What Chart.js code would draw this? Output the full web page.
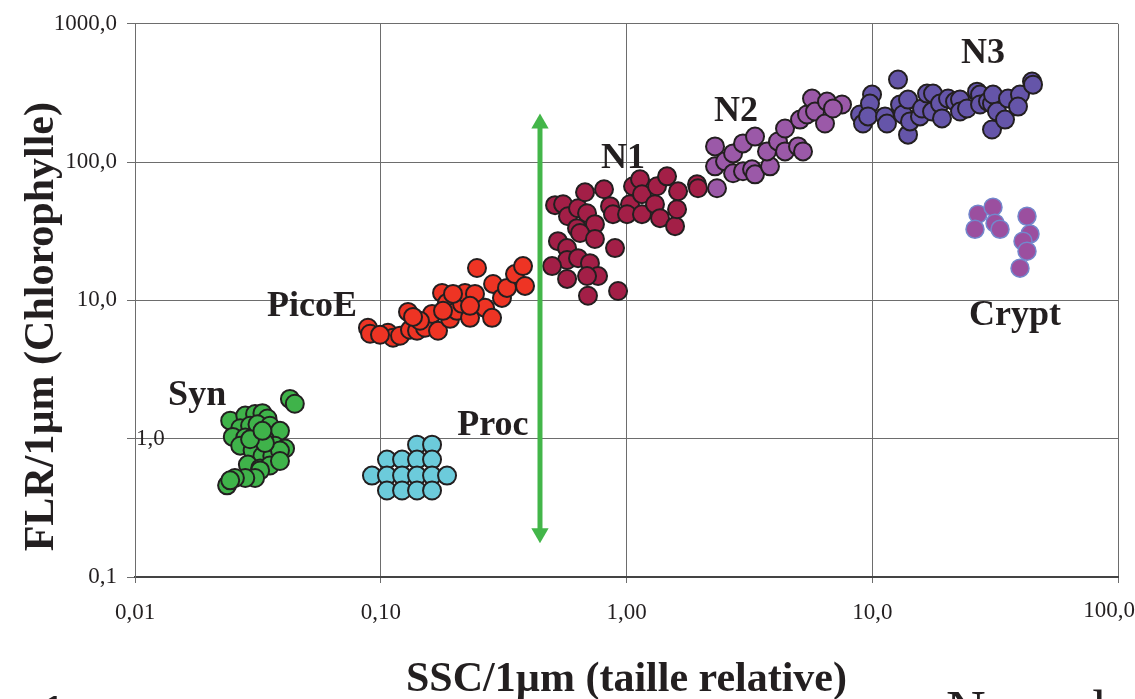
<!DOCTYPE html>
<html>
<head>
<meta charset="utf-8">
<script src="https://cdn.jsdelivr.net/npm/chart.js@4.4.1/dist/chart.umd.min.js"></script>
<style>
  html, body { margin: 0; padding: 0; background: #fff; overflow: hidden; }
  #wrap { position: relative; width: 1135px; height: 699px; overflow: hidden; }
  .frag { position: absolute; font-family: "Liberation Serif", serif; color: #231f20; line-height: 1; }
</style>
</head>
<body>
<div id="wrap">
  <canvas id="cytoChart" width="1135" height="699"></canvas>
  <div class="frag" style="left:42px; top:689px; font-size:44px; font-weight:bold;">1</div>
  <div class="frag" style="left:946px; top:682px; font-size:55px;">Nanoph</div>
</div>
<script>
// tick labels (French decimal comma)
const xTickValues = [0.01, 0.1, 1, 10, 100];
const xTickLabels = ["0,01", "0,10", "1,00", "10,0", "100,0"];
const yTickValues = [0.1, 1, 10, 100, 1000];
const yTickLabels = ["0,1", "1,0", "10,0", "100,0", "1000,0"];

// Synechococcus
const synX = [0.0427, 0.0447, 0.0244, 0.0281, 0.0308, 0.0330, 0.0346, 0.0268, 0.0294, 0.0315, 0.0354, 0.0389,
  0.0250, 0.0281, 0.0308, 0.0338, 0.0371, 0.0408, 0.0268, 0.0301, 0.0330, 0.0362, 0.0389, 0.0288, 0.0323,
  0.0354, 0.0389, 0.0323, 0.0308, 0.0281, 0.0255, 0.0237, 0.0244, 0.0338, 0.0294, 0.0330];
const synY = [1.94, 1.79, 1.35, 1.47, 1.51, 1.53, 1.40, 1.19, 1.24, 1.27, 1.24, 1.14,
  1.03, 1.02, 0.97, 0.99, 0.89, 0.85, 0.89, 0.82, 0.75, 0.75, 0.82, 0.65, 0.61,
  0.64, 0.69, 0.59, 0.52, 0.52, 0.52, 0.46, 0.50, 0.93, 0.99, 1.14];

// Prochlorococcus
const procX = [0.1405, 0.1617, 0.106, 0.1221, 0.1405, 0.1617, 0.0921, 0.106, 0.1221, 0.1405, 0.1617, 0.1861,
  0.106, 0.1221, 0.1405, 0.1617];
const procY = [0.905, 0.905, 0.706, 0.706, 0.706, 0.706, 0.541, 0.541, 0.541, 0.541, 0.541, 0.541,
  0.422, 0.422, 0.422, 0.422];

// Pico-eukaryotes
const picoX = [0.0887, 0.0905, 0.1070, 0.1122, 0.1198, 0.1291, 0.1315, 0.1405, 0.1514, 0.1617, 0.1710, 0.1776,
  0.1861, 0.1914, 0.2043, 0.2141, 0.2202, 0.2308, 0.2418, 0.2464, 0.2657, 0.2837, 0.2864, 0.3114, 0.3264,
  0.3518, 0.3793, 0.3864, 0.2308, 0.1968, 0.1792, 0.1444, 0.1353, 0.0993];
const picoY = [6.34, 5.74, 5.83, 5.37, 5.55, 8.26, 6.13, 6.03, 6.34, 7.99, 6.03, 11.33,
  9.59, 7.36, 8.40, 9.44, 11.33, 7.48, 11.14, 17.15, 8.83, 7.48, 13.15, 10.42, 12.31,
  15.5, 17.7, 12.72, 9.13, 11.14, 8.40, 7.12, 7.60, 5.64];

// Nano-eukaryotes 1
const n1X = [0.512, 0.552, 0.578, 0.635, 0.678, 0.691, 0.744, 0.629, 0.647, 0.744, 0.526, 0.573, 0.573, 0.498,
  0.635, 0.710, 0.766, 0.691, 0.573, 0.697, 0.898, 0.924, 0.810, 0.857, 0.881, 1.033, 1.005, 1.063,
  1.135, 1.156, 1.156, 1.306, 1.331, 1.369, 1.462, 1.576, 1.606, 1.621, 1.936, 1.954];
const n1Y = [48.8, 49.6, 40.6, 46.4, 60.5, 42.7, 35.6, 33.3, 30.7, 27.8, 26.8, 23.9, 19.6, 17.7,
  20.2, 18.6, 15.0, 15.0, 14.3, 10.8, 23.9, 11.7, 63.6, 48.0, 42.0, 49.6, 42.0, 66.9,
  75.1, 58.6, 42.0, 49.6, 66.9, 39.3, 78.9, 34.4, 45.6, 61.5, 69.1, 64.7];

// Nano-eukaryotes 2
const n2X = [2.292, 2.335, 2.292, 2.517, 2.714, 2.979, 3.334, 2.714, 2.979, 3.242, 3.334, 3.836, 3.730,
  4.135, 4.416, 4.416, 4.988, 5.227, 5.082, 5.427, 5.687, 5.849, 6.423, 6.545, 7.533, 6.923];
const n2Y = [129.9, 64.7, 93.2, 101.3, 115.6, 136.5, 153, 83.0, 85.8, 88.7, 81.6, 93.2, 119.5,
  141, 119.5, 175, 129.9, 119.5, 203, 221, 288, 232, 190, 274, 261, 244];

// Nano-eukaryotes 3
const n3X = [12.73, 9.98, 8.92, 9.17, 9.79, 9.61, 11.27, 11.48, 12.97, 13.34, 13.98, 13.98, 14.24,
  15.64, 15.94, 16.71, 17.67, 17.51, 18.87, 19.22, 20.34, 21.72, 22.76, 22.76, 24.30, 26.69,
  27.45, 27.45, 29.58, 30.71, 31.00, 30.71, 32.18, 34.69, 35.68, 39.92, 39.18, 44.68, 45.10];
const n3Y = [395, 308, 221, 190, 265, 214, 214, 190, 261, 221, 283, 158, 197,
  214, 244, 313, 313, 232, 265, 207, 288, 274, 283, 232, 244, 323,
  308, 261, 274, 265, 308, 172, 232, 203, 288, 308, 252, 382, 363];

// Cryptophytes
const cryptX = [26.93, 26.19, 31.00, 31.59, 33.11, 42.63, 43.85, 41.06, 42.63, 39.92];
const cryptY = [42.0, 32.7, 47.2, 36.2, 32.7, 40.6, 30.2, 26.8, 22.7, 17.1];

// green double arrow (x, top, bottom)
const arrowX = [0.4446, 0.4446];
const arrowY = [190, 0.2075];

// group names and where they sit in data space
const groupNames = ["Syn", "PicoE", "Proc", "N1", "N2", "N3", "Crypt"];
const groupNameX = [0.0179, 0.0525, 0.286, 0.968, 2.79, 28.2, 38.1];
const groupNameY = [2.05, 8.98, 1.25, 105, 232, 608, 7.73];

const FONT = "'Liberation Serif'";

function pts(xs, ys) {
  return xs.map((x, i) => ({ x: x, y: ys[i] }));
}

function cloud(label, xs, ys, fill, border, r, bw) {
  return {
    label: label,
    data: pts(xs, ys),
    backgroundColor: fill,
    borderColor: border,
    borderWidth: bw,
    pointRadius: r,
    pointHoverRadius: r,
  };
}

const groupLabelsPlugin = {
  id: "groupLabels",
  beforeDatasetsDraw(chart) {
    const ctx = chart.ctx;
    const xs = chart.scales.x;
    const ys = chart.scales.y;
    ctx.save();
    ctx.fillStyle = "#231f20";
    ctx.font = "bold 36px " + FONT;
    ctx.textAlign = "center";
    ctx.textBaseline = "middle";
    groupNames.forEach((name, i) => {
      ctx.fillText(name, xs.getPixelForValue(groupNameX[i]), ys.getPixelForValue(groupNameY[i]));
    });
    // the "1,0" label sits inside the frame in the original
    ctx.font = "23px " + FONT;
    ctx.textAlign = "left";
    ctx.fillText(yTickLabels[1], chart.chartArea.left + 1, ys.getPixelForValue(yTickValues[1]));
    // last x label is pulled in so it is not cut by the page edge
    ctx.textAlign = "right";
    ctx.textBaseline = "top";
    ctx.fillText(xTickLabels[4], chart.width, chart.chartArea.bottom + 22);
    ctx.restore();
  },
};

const cytoConfig = {
  type: "scatter",
  data: {
    datasets: [
      {
        type: "line",
        label: "arrow",
        data: pts(arrowX, arrowY),
        showLine: true,
        borderColor: "#43b649",
        backgroundColor: "#43b649",
        borderWidth: 5,
        pointStyle: "triangle",
        rotation: [0, 180],
        pointRadius: 10,
        pointBorderWidth: 0,
      },
      cloud("Crypt", cryptX, cryptY, "#9b4f9f", "#7387cc", 9, 1.5),
      cloud("N3", n3X, n3Y, "#6555a9", "#231f20", 9, 2),
      cloud("N2", n2X, n2Y, "#9b59a8", "#231f20", 9, 2),
      cloud("N1", n1X, n1Y, "#a31f47", "#231f20", 9, 2),
      cloud("PicoE", picoX, picoY, "#ee3424", "#231f20", 9, 2),
      cloud("Proc", procX, procY, "#6ccbdb", "#231f20", 9, 2),
      cloud("Syn", synX, synY, "#3fb34a", "#231f20", 9, 2),
    ],
  },
  options: {
    responsive: false,
    animation: false,
    layout: { padding: { top: 22, right: 17, left: 0, bottom: 0 } },
    plugins: {
      legend: { display: false },
      tooltip: { enabled: false },
    },
    scales: {
      x: {
        type: "logarithmic",
        min: 0.01,
        max: 100,
        afterBuildTicks: (scale) => {
          scale.ticks = xTickValues.map((v) => ({ value: v }));
        },
        afterFit: (scale) => {
          scale.height = 122;
          scale.paddingLeft = 0;
          scale.paddingRight = 0;
        },
        ticks: {
          autoSkip: false,
          maxRotation: 0,
          padding: 16,
          color: "#231f20",
          font: { family: FONT, size: 23 },
          callback: (v, i) => (i === 4 ? "" : xTickLabels[i]),
        },
        grid: { color: "#6d6d6d", lineWidth: 1, tickLength: 6, tickColor: "#6d6d6d" },
        border: { color: "#444", width: 2 },
        title: {
          display: true,
          text: "SSC/1µm (taille relative)",
          color: "#231f20",
          font: { family: FONT, size: 42, weight: "bold", lineHeight: 1.2 },
          padding: { top: 0, bottom: -6 },
        },
      },
      y: {
        type: "logarithmic",
        min: 0.1,
        max: 1000,
        afterBuildTicks: (scale) => {
          scale.ticks = yTickValues.map((v) => ({ value: v }));
        },
        afterFit: (scale) => {
          scale.width = 135;
        },
        ticks: {
          autoSkip: false,
          padding: 10,
          color: "#231f20",
          font: { family: FONT, size: 23 },
          callback: (v, i) => (i === 1 ? "" : yTickLabels[i]),
        },
        grid: { color: "#6d6d6d", lineWidth: 1, tickLength: 8, tickColor: "#6d6d6d" },
        border: { color: "#6d6d6d", width: 1 },
        title: {
          display: true,
          // trailing spaces push the rotated title down, as in the original
          text: "FLR/1µm (Chlorophylle)\u00a0\u00a0\u00a0\u00a0\u00a0",
          color: "#231f20",
          font: { family: FONT, size: 42, weight: "bold", lineHeight: 1.2 },
          padding: { top: 17, bottom: 0 },
        },
      },
    },
  },
  plugins: [groupLabelsPlugin],
};

const cytoChart = new Chart(document.getElementById("cytoChart"), cytoConfig);
</script>
</body>
</html>
